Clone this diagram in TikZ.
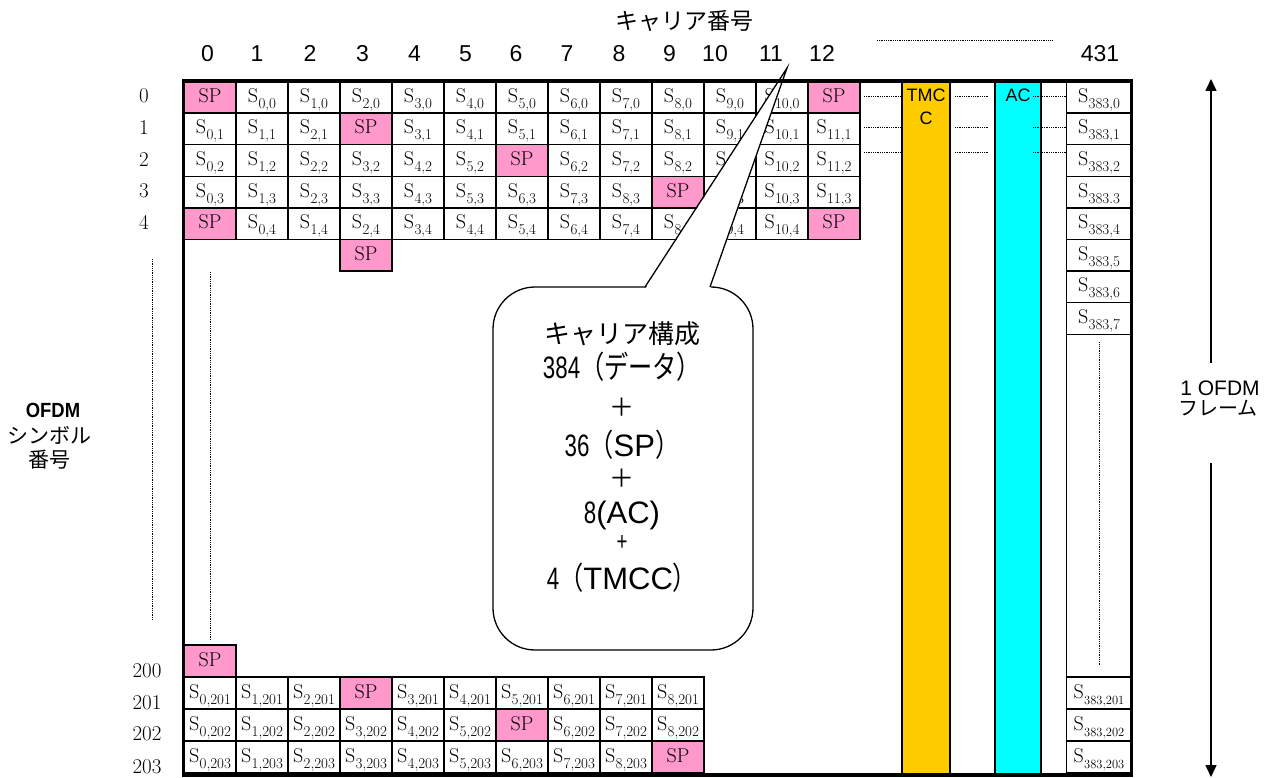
\documentclass[tikz,border=0pt]{standalone}
\usepackage{fontspec}
\setsansfont{Liberation Sans}
\newfontfamily\jpf{Noto Sans CJK JP}
\newfontfamily\jpc[FakeStretch=0.78]{Noto Sans CJK JP}
\newfontfamily\cdig[FakeStretch=0.72]{Liberation Sans}
\newfontfamily\sfcond[FakeStretch=0.9]{Liberation Sans}
\usetikzlibrary{arrows.meta}
\definecolor{spPink}{RGB}{255,153,204}
\definecolor{tmccGold}{RGB}{255,204,0}
\definecolor{acCyan}{RGB}{0,255,255}
\newcommand\Sc[2]{S\kern0.3pt\raisebox{-6pt}{\fontsize{15}{15}\selectfont #1,#2}}
\newcommand\Scs[2]{S\kern0.3pt\raisebox{-6pt}{\fontsize{12.5}{13}\selectfont #1,#2}}
\tikzset{
  cellbox/.style={draw=black, line width=1.3pt, fill=white, minimum width=52pt,
    minimum height=31.6pt, inner sep=0pt, outer sep=0pt, text height=16pt,
    text depth=6pt, font=\fontsize{20}{24}\selectfont},
  spbox/.style={cellbox, fill=spPink},
  bcell/.style={cellbox, minimum height=32pt},
  bsp/.style={spbox, minimum height=32pt},
  rcell/.style={cellbox, minimum width=64.5pt},
  colband/.style={draw=black, line width=1.3pt, minimum height=694pt,
    inner sep=0pt, outer sep=0pt, anchor=north west},
  dotline/.style={line width=0.8pt, dash pattern=on 0.9pt off 0.9pt},
  arrowline/.style={line width=1.5pt, -{Triangle[length=12pt,width=11pt]}},
  numlab/.style={anchor=base, font=\sffamily\fontsize{23}{26}\selectfont},
  rowlab/.style={anchor=base, font=\fontsize{21}{24}\selectfont},
  smallsans/.style={anchor=base, font=\sffamily\fontsize{18}{20}\selectfont},
  cl/.style={anchor=base, inner sep=0pt, font=\fontsize{31}{34}\selectfont},
}
\begin{document}
\begin{tikzpicture}[x=1pt,y=-1pt]
\useasboundingbox (0,0) rectangle (1270,778);
\fill[white] (0,0) rectangle (1270,778);

% TMCC and AC bands
\node[colband, fill=tmccGold, minimum width=48pt] (tmcc) at (902,81) {};
\node[colband, fill=acCyan, minimum width=46pt] (ac) at (995,81) {};
\node[smallsans] (tmccA) at (926,102) {TMC};
\node[smallsans] (tmccB) at (926,125) {C};
\node[smallsans] (acT) at (1018,102) {AC};

% rows 0 and 4
\foreach \r in {0,4}{
  \pgfmathsetmacro\yy{97.3+31.6*\r}
  \node[spbox] (g\r-0) at (210,\yy) {SP};
  \node[spbox] (g\r-12) at (834,\yy) {SP};
  \foreach \c in {1,...,11}{
    \pgfmathtruncatemacro\k{\c-1}
    \node[cellbox] (g\r-\c) at ({210+52*\c},\yy) {\Sc{\k}{\r}};
  }
}
% rows 1-3
\foreach \r/\s in {1/3,2/6,3/9}{
  \pgfmathsetmacro\yy{97.3+31.6*\r}
  \foreach \c in {0,...,12}{
    \pgfmathtruncatemacro\k{\c-1}
    \ifnum\c<\s
      \node[cellbox] (g\r-\c) at ({210+52*\c},\yy) {\Sc{\c}{\r}};
    \else\ifnum\c=\s
      \node[spbox] (g\r-\c) at ({210+52*\c},\yy) {SP};
    \else
      \node[cellbox] (g\r-\c) at ({210+52*\c},\yy) {\Sc{\k}{\r}};
    \fi\fi
  }
}
\node[spbox] (g5-3) at (366,255.3) {SP};

% bottom rows
\node[bsp] (b200) at (210,661) {SP};
\foreach \r/\s/\yy in {201/3/693,202/6/725,203/9/757}{
  \foreach \c in {0,...,9}{
    \pgfmathtruncatemacro\k{\c-1}
    \ifnum\c<\s
      \node[bcell] (b\r-\c) at ({210+52*\c},\yy) {\Sc{\c}{\r}};
    \else\ifnum\c=\s
      \node[bsp] (b\r-\c) at ({210+52*\c},\yy) {SP};
    \else
      \node[bcell] (b\r-\c) at ({210+52*\c},\yy) {\Sc{\k}{\r}};
    \fi\fi
  }
}

% right column
\foreach \r in {0,...,7}{
  \pgfmathsetmacro\yy{97.3+31.6*\r}
  \ifnum\r=3
    \node[rcell] (rc\r) at (1099,\yy) {S\kern0.3pt\raisebox{-6pt}{\fontsize{15}{15}\selectfont 383.3}};
  \else
    \node[rcell] (rc\r) at (1099,\yy) {\Sc{383}{\r}};
  \fi
}
\node[rcell, minimum height=342.7pt] (rcgap) at (1099,505.65) {};
\draw[dotline] ([yshift=-8pt]rcgap.north) -- ([yshift=12pt]rcgap.south);
\foreach \r/\yy in {201/693,202/725,203/757}{
  \node[rcell, minimum height=32pt] (rc\r) at (1099,\yy) {\Scs{383}{\r}};
}

% dotted lines
\foreach \yy in {96,127,152}{
  \draw[dotline] (864,\yy) -- (901,\yy);
  \draw[dotline] (955,\yy) -- (988,\yy);
  \draw[dotline] (1033,\yy) -- (1066,\yy);
}
\draw[dotline] (877,40) -- (1053,40);
\draw[dotline] (152,259) -- (152,620);
\draw[dotline] (210,272) -- (210,640);

% callout
\coordinate (tip) at (787,68);
\node[draw, line width=1.3pt, fill=white, rounded corners=42pt, minimum width=260pt,
  minimum height=363pt, inner sep=0pt] (callout) at (623,468.5) {};
\fill[white] (645,289.5) -- (tip) -- (710,289.5) -- cycle;
\draw[line width=1.3pt] (645,287) -- (tip) -- (710,287);
\node[anchor=base, font=\jpf\fontsize{26}{30}\selectfont] (ct1) at (622,344) {キャリア構成};
\node[cl] (ct2) at (622,378.5) {{\cdig 384}{\jpc （データ）}};
\node[cl] (ct3) at (622,416.5) {{\jpf\fontsize{25}{28}\selectfont ＋}};
\node[cl] (ct4) at (622,456.5) {{\cdig 36}{\jpc （}{\sffamily SP}{\jpc ）}};
\node[cl] (ct5) at (622,487.5) {{\jpf\fontsize{25}{28}\selectfont ＋}};
\node[cl] (ct6) at (622,523.5) {{\cdig 8}{\sffamily (AC)}};
\node[cl] (ct7) at (622,550) {{\cdig\fontsize{26}{28}\selectfont +}};
\node[cl] (ct8) at (622,589.5) {{\cdig 4}{\jpc （}{\sffamily TMCC}{\jpc ）}};

% outer frame
\draw[line width=3.5pt] (183.5,81) rectangle (1131.5,775);

% column numbers
\node[anchor=base, font=\jpf\fontsize{23}{26}\selectfont] (hdr) at (684,30) {キャリア番号};
\foreach \n/\xx in {0/207.5,1/257,2/310,3/362.5,4/414.5,5/465.5,6/516,7/567,8/619,9/669.5,10/715,11/771,12/822}{
  \node[numlab] (cn\n) at (\xx,62) {\n};
}
\node[numlab] (cn431) at (1100,62) {431};

% row numbers
\foreach \r in {0,...,4}{
  \pgfmathsetmacro\yy{103+31.6*\r}
  \node[rowlab] (rl\r) at (144,\yy) {\r};
}
\foreach \r/\yy in {200/677,201/709,202/740,203/773}{
  \node[rowlab] (rl\r) at (147,\yy) {\r};
}

% left label
\node[anchor=base, font=\sfcond\bfseries\fontsize{20.5}{22}\selectfont] (ol1) at (53,417) {OFDM};
\node[anchor=base, font=\jpf\fontsize{21}{24}\selectfont] (ol2) at (50,443) {シンボル};
\node[anchor=base, font=\jpf\fontsize{21}{24}\selectfont] (ol3) at (49,467) {番号};

% right arrow and label
\coordinate (arTop) at (1211,79);
\coordinate (arBot) at (1211,777);
\coordinate (arA) at (1211,363);
\coordinate (arB) at (1211,463);
\draw[arrowline] (arA) -- (arTop);
\draw[arrowline] (arB) -- (arBot);
\node[anchor=base, font=\sffamily\fontsize{21}{24}\selectfont] (fl1) at (1220,395) {1 OFDM};
\node[anchor=base, font=\jpf\fontsize{20}{24}\selectfont] (fl2) at (1218,415) {フレーム};
\end{tikzpicture}
\end{document}
